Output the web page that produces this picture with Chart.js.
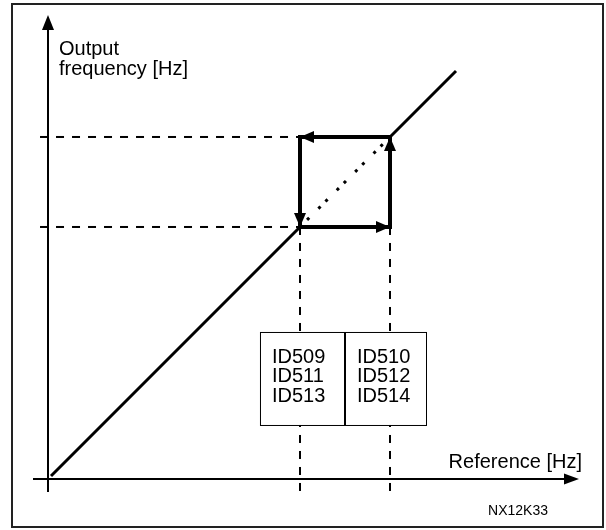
<!DOCTYPE html>
<html>
<head>
<meta charset="utf-8">
<script src="https://cdn.jsdelivr.net/npm/chart.js@4.4.1/dist/chart.umd.min.js"></script>
<style>
  html, body { margin: 0; padding: 0; background: #fff; }
  canvas { display: block; }
</style>
</head>
<body>
<canvas id="hystChart" width="606" height="530"></canvas>
<script>
// --- data ---
const refHz = [0.5, 42, 57, 68];      // reference along the straight line
const outHz = [0.5, 42, 57, 68];      // output = reference
const lowHz = 42;
const highHz = 57;
const loopRef = [42, 57, 57, 42, 42]; // hysteresis loop, clockwise
const loopOut = [42, 42, 57, 57, 42];
const lowIds = ["ID509", "ID511", "ID513"];
const highIds = ["ID510", "ID512", "ID514"];
const xTitle = "Reference [Hz]";
const yTitle = ["Output", "frequency [Hz]"];
const figCode = "NX12K33";

const xMin = -2.5, xMax = 88.5;
const yMin = -2.17, yMax = 77.33;
const boxFrom = 35.33, boxTo = 63, boxTop = 24.5, boxBottom = 9;

function pts(xs, ys) {
  return xs.map((x, i) => ({ x: x, y: ys[i] }));
}

function arrowHead(ctx, fx, fy, tx, ty, len, half) {
  const a = Math.atan2(ty - fy, tx - fx);
  ctx.beginPath();
  ctx.moveTo(tx, ty);
  ctx.lineTo(tx - len * Math.cos(a) + half * Math.sin(a), ty - len * Math.sin(a) - half * Math.cos(a));
  ctx.lineTo(tx - len * Math.cos(a) - half * Math.sin(a), ty - len * Math.sin(a) + half * Math.cos(a));
  ctx.closePath();
  ctx.fill();
}

// axes, arrows, id box and texts
const decorPlugin = {
  id: "decor",
  beforeDraw(chart) {
    const ctx = chart.ctx;
    ctx.save();
    ctx.fillStyle = "#fff";
    ctx.fillRect(0, 0, chart.width, chart.height);
    ctx.restore();
  },
  afterDatasetsDraw(chart) {
    const ctx = chart.ctx;
    const xs = chart.scales.x, ys = chart.scales.y;
    const x0 = xs.getPixelForValue(0), y0 = ys.getPixelForValue(0);
    ctx.save();
    ctx.strokeStyle = "#000";
    ctx.fillStyle = "#000";

    // axes
    ctx.lineWidth = 2;
    ctx.beginPath();
    ctx.moveTo(xs.getPixelForValue(xMin), y0);
    ctx.lineTo(xs.getPixelForValue(xMax) - 10, y0);
    ctx.moveTo(x0, ys.getPixelForValue(yMin));
    ctx.lineTo(x0, ys.getPixelForValue(yMax) + 10);
    ctx.stroke();
    arrowHead(ctx, x0, y0, xs.getPixelForValue(xMax), y0, 15, 5.5);
    arrowHead(ctx, x0, y0, x0, ys.getPixelForValue(yMax), 15, 6);

    // loop arrow heads
    const meta = chart.getDatasetMeta(1);
    for (let i = 1; i < meta.data.length; i++) {
      const p = meta.data[i - 1], q = meta.data[i];
      arrowHead(ctx, p.x, p.y, q.x, q.y, 14, 6);
    }

    // id box
    const bl = xs.getPixelForValue(boxFrom), br = xs.getPixelForValue(boxTo);
    const bt = ys.getPixelForValue(boxTop), bb = ys.getPixelForValue(boxBottom);
    const mid = xs.getPixelForValue((lowHz + highHz) / 2);
    ctx.fillStyle = "#fff";
    ctx.fillRect(bl, bt, br - bl, bb - bt);
    ctx.lineWidth = 1;
    ctx.strokeStyle = "#000";
    ctx.strokeRect(bl + 0.5, bt + 0.5, br - bl, bb - bt);
    ctx.lineWidth = 2;
    ctx.beginPath();
    ctx.moveTo(mid, bt);
    ctx.lineTo(mid, bb);
    ctx.stroke();

    ctx.fillStyle = "#000";
    ctx.font = "20px 'Liberation Sans', Arial, sans-serif";
    ctx.textBaseline = "alphabetic";
    ctx.textAlign = "left";
    lowIds.forEach((t, i) => ctx.fillText(t, bl + 12, bt + 31 + i * 19.5));
    highIds.forEach((t, i) => ctx.fillText(t, mid + 12, bt + 31 + i * 19.5));

    // axis titles
    ctx.fillText(yTitle[0], x0 + 11, 55);
    ctx.fillText(yTitle[1], x0 + 11, 75);
    ctx.textAlign = "right";
    ctx.fillText(xTitle, xs.getPixelForValue(xMax) + 3, y0 - 11);
    ctx.font = "14px 'Liberation Sans', Arial, sans-serif";
    ctx.fillText(figCode, 548, 515);

    // frame
    ctx.strokeStyle = "#222";
    ctx.lineWidth = 2;
    ctx.strokeRect(12, 4, 591, 523);
    ctx.restore();
  }
};

const dashed = {
  borderColor: "#000",
  borderWidth: 2,
  borderDash: [8, 8],
  pointRadius: 0,
  showLine: true,
  fill: false
};

new Chart(document.getElementById("hystChart").getContext("2d"), {
  type: "scatter",
  data: {
    datasets: [
      {
        data: pts(refHz, outHz),
        borderColor: "#000",
        borderWidth: 3,
        pointRadius: 0,
        showLine: true,
        segment: {
          borderDash: (c) => (c.p0DataIndex === 1 ? [3, 7, 3, 13] : undefined)
        }
      },
      {
        data: pts(loopRef, loopOut),
        borderColor: "#000",
        borderWidth: 4,
        borderJoinStyle: "miter",
        pointRadius: 0,
        showLine: true
      },
      { ...dashed, data: [{ x: -1.33, y: highHz }, { x: lowHz, y: highHz }] },
      { ...dashed, data: [{ x: -1.33, y: lowHz }, { x: lowHz, y: lowHz }] },
      { ...dashed, data: [{ x: lowHz, y: lowHz }, { x: lowHz, y: -2.5 }] },
      { ...dashed, data: [{ x: highHz, y: lowHz }, { x: highHz, y: -2.5 }] }
    ]
  },
  options: {
    responsive: false,
    animation: false,
    devicePixelRatio: 1,
    layout: { padding: { left: 33, right: 27, top: 15, bottom: 38 } },
    scales: {
      x: { type: "linear", min: xMin, max: xMax, display: false },
      y: { type: "linear", min: yMin, max: yMax, display: false }
    },
    plugins: {
      legend: { display: false },
      tooltip: { enabled: false }
    }
  },
  plugins: [decorPlugin]
});
</script>
</body>
</html>
